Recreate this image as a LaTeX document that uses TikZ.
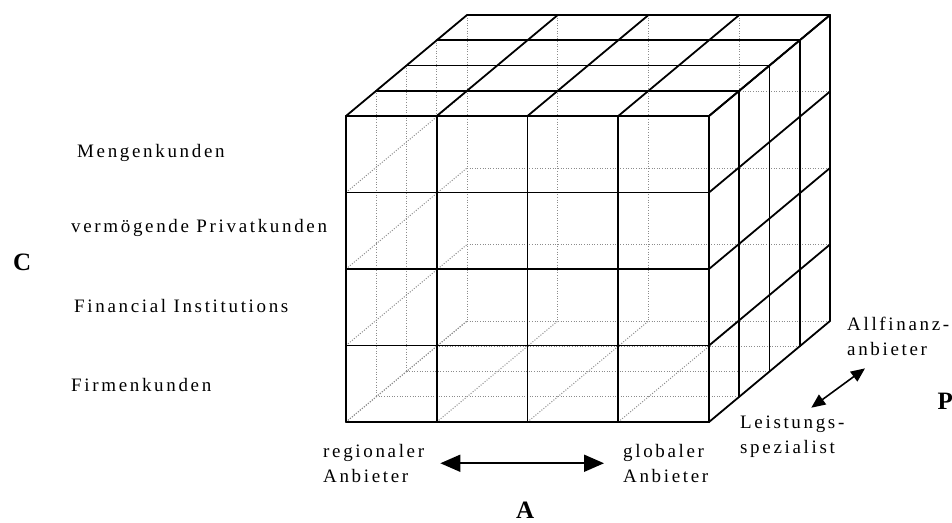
\documentclass[tikz,border=0pt]{standalone}
\usepackage{fontspec}
\setmainfont{Liberation Serif}
\usetikzlibrary{arrows.meta,positioning}

\begin{document}
\begin{tikzpicture}[x=1pt,y=-1pt]
\tikzset{
  edge/.style={draw=black, line width=1.8pt, line cap=round},
  hidden/.style={draw=black!45, line width=1pt, dash pattern=on 1pt off 1.6pt},
  lbl/.style={font=\fontsize{19}{24.5}\selectfont\addfontfeatures{LetterSpace=14},
    inner sep=0pt, anchor=base west, align=left},
  axis/.style={font=\fontsize{25}{25}\selectfont\bfseries, inner sep=0pt, anchor=base west},
  dirA/.style={{Triangle[length=20pt,width=17pt]}-{Triangle[length=20pt,width=17pt]},
    line width=1.8pt},
  dirP/.style={{Triangle[length=14pt,width=12pt]}-{Triangle[length=14pt,width=12pt]},
    line width=1.6pt}
}
\useasboundingbox (0,0) rectangle (952,522);

% ======= Würfel: 4 x 4 x 4 Felder =======
\begin{scope}[shift={(346,116)}, x={(90.75pt,0pt)}, y={(0pt,-76.5pt)}, z={(30.25pt,25.25pt)}]
  % verdeckte Kanten (links, unten, hinten)
  \foreach \k in {0,...,4} {
    \draw[hidden] (0,0,\k) -- (0,4,\k);
    \draw[hidden] (0,4,\k) -- (4,4,\k);
    \draw[hidden] (0,\k,0) -- (0,\k,4);
    \draw[hidden] (\k,4,0) -- (\k,4,4);
    \draw[hidden] (\k,0,4) -- (\k,4,4);
    \draw[hidden] (0,\k,4) -- (4,\k,4);
  }
  % sichtbare Kanten (vorne, oben, rechts)
  \foreach \k in {0,...,4} {
    \draw[edge] (\k,0,0) -- (\k,4,0);
    \draw[edge] (0,\k,0) -- (4,\k,0);
    \draw[edge] (0,0,\k) -- (4,0,\k);
    \draw[edge] (\k,0,0) -- (\k,0,4);
    \draw[edge] (4,0,\k) -- (4,4,\k);
    \draw[edge] (4,\k,0) -- (4,\k,4);
  }
\end{scope}

% ======= Achse C: Kundengruppen =======
\node[axis] (axC) at (13,270) {C};
\node[lbl] (c1) at (77,157) {Mengenkunden};
\node[lbl] (c2) at (71,232) {vermögende Privatkunden};
\node[lbl] (c3) at (74,312) {Financial Institutions};
\node[lbl] (c4) at (71,391) {Firmenkunden};

% ======= Achse A: regional -- global =======
\node[lbl] (a1) at (323,482) {regionaler\\Anbieter};
\node[lbl] (a2) at (623,482) {globaler\\Anbieter};
\node[axis] (axA) at (516,518) {A};
\draw[dirA] ([xshift=16pt]a1.east) -- ([xshift=-19pt]a2.west);

% ======= Achse P: Produktangebot =======
\node[lbl] (p1) at (740,453) {Leistungs-\\spezialist};
\node[lbl] (p2) at (847,355) {Allfinanz-\\anbieter};
\node[axis] (axP) at (937.5,409) {P};
\draw[dirP] ([shift={(19,-8)}]p1.north) -- ([shift={(18,13)}]p2.south west);
\end{tikzpicture}
\end{document}
